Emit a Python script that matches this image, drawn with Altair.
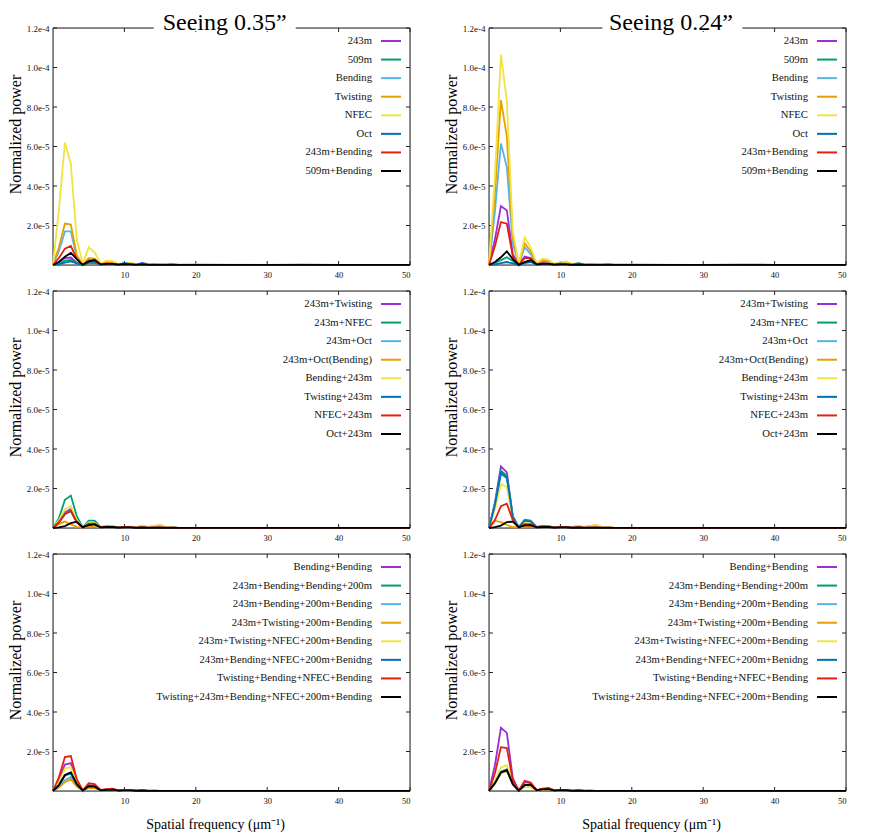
import altair as alt
import pandas as pd

# ---------------- data (power values in units of 1e-6) ----------------
FREQ = [0, 0.83, 1.67, 2.5, 3.33, 4.17, 5.0, 5.83, 6.67, 7.5, 8.33, 9.17, 10.0, 10.83,
        11.67, 12.5, 13.33, 14.17, 15.0, 15.83, 16.67, 17.5, 20, 25, 30, 35, 40, 45, 50]

SERIES_TOP = ["243m", "509m", "Bending", "Twisting", "NFEC", "Oct", "243m+Bending", "509m+Bending"]
SERIES_MID = ["243m+Twisting", "243m+NFEC", "243m+Oct", "243m+Oct(Bending)", "Bending+243m",
              "Twisting+243m", "NFEC+243m", "Oct+243m"]
SERIES_BOT = ["Bending+Bending", "243m+Bending+Bending+200m", "243m+Bending+200m+Bending",
              "243m+Twisting+200m+Bending", "243m+Twisting+NFEC+200m+Bending",
              "243m+Bending+NFEC+200m+Benidng", "Twisting+Bending+NFEC+Bending",
              "Twisting+243m+Bending+NFEC+200m+Bending"]
COLORS = ["#9a2fd8", "#009e73", "#56b4e9", "#e69f00", "#f0e442", "#0072b2", "#e51e10", "#000000"]

Y_TICKS = [2e-5, 4e-5, 6e-5, 8e-5, 1e-4, 1.2e-4]
X_TICKS = [10, 20, 30, 40, 50]
TITLES = ["Seeing 0.35\u201d", "Seeing 0.24\u201d"]
XLABEL = "Spatial frequency (\u03bcm\u207b\u00b9)"
YLABEL = "Normalized power"

# Seeing 0.35" , top row
A_243M = [0, 1.5, 3.5, 3.8, 1.2, 0.1, 1.2, 1.0, 0.2, 0.5, 0.4, 0.1, 0.3, 0.3, 0.1, 0.2, 0.1, 0.1, 0.1, 0.1, 0.1, 0.1, 0.1, 0.1, 0.1, 0.1, 0.1, 0.1, 0.1]
A_509M = [0, 0.5, 2.2, 2.6, 1.0, 0.1, 1.0, 1.5, 0.2, 0.4, 0.3, 0.1, 0.2, 0.2, 0.1, 0.2, 0.1, 0.1, 0.1, 0.1, 0.1, 0.1, 0.1, 0.1, 0.1, 0.1, 0.1, 0.1, 0.1]
A_BEND = [0, 7.0, 17.0, 17.0, 4.0, 0.3, 3.0, 2.8, 0.4, 1.2, 1.0, 0.3, 0.5, 0.7, 0.3, 0.4, 0.2, 0.3, 0.2, 0.2, 0.3, 0.1, 0.2, 0.1, 0.1, 0.1, 0.1, 0.1, 0.1]
A_TWIST = [0, 9.0, 21.0, 20.5, 5.0, 0.3, 3.5, 3.2, 0.5, 1.5, 1.3, 0.3, 0.6, 0.8, 0.3, 0.5, 0.2, 0.3, 0.2, 0.2, 0.4, 0.2, 0.2, 0.1, 0.1, 0.1, 0.1, 0.1, 0.1]
A_NFEC = [0, 28.0, 62.0, 51.0, 13.0, 0.5, 9.0, 6.4, 0.8, 2.2, 2.0, 0.5, 0.8, 1.2, 0.5, 0.6, 0.3, 0.4, 0.3, 0.3, 0.5, 0.2, 0.2, 0.2, 0.1, 0.1, 0.1, 0.1, 0.1]
A_OCT = [0, 0.3, 1.2, 1.8, 0.8, 0.1, 1.5, 2.0, 0.3, 0.6, 0.5, 0.2, 1.0, 0.4, 0.2, 1.0, 0.3, 0.2, 0.2, 0.2, 0.3, 0.1, 0.1, 0.1, 0.1, 0.2, 0.1, 0.1, 0.1]
A_243B = [0, 3.5, 8.3, 9.7, 3.0, 0.2, 2.2, 2.0, 0.3, 0.8, 0.7, 0.2, 0.4, 0.4, 0.2, 0.3, 0.1, 0.2, 0.1, 0.1, 0.2, 0.1, 0.1, 0.1, 0.1, 0.1, 0.1, 0.1, 0.1]
A_509B = [0, 1.5, 4.2, 6.1, 3.0, 0.1, 1.8, 2.5, 0.3, 0.6, 0.6, 0.2, 0.4, 0.3, 0.1, 0.3, 0.1, 0.1, 0.1, 0.1, 0.1, 0.1, 0.1, 0.1, 0.1, 0.1, 0.1, 0.1, 0.1]

# Seeing 0.24" , top row
B_243M = [0, 13.0, 29.8, 27.6, 5.5, 0.2, 4.3, 3.5, 0.4, 1.0, 0.8, 0.2, 0.5, 0.5, 0.2, 0.3, 0.1, 0.2, 0.1, 0.1, 0.2, 0.1, 0.1, 0.1, 0.1, 0.1, 0.1, 0.1, 0.1]
B_509M = [0, 1.0, 2.5, 3.9, 2.0, 0.1, 1.5, 2.0, 0.2, 0.5, 0.4, 0.1, 0.3, 0.2, 0.1, 0.2, 0.1, 0.1, 0.1, 0.1, 0.1, 0.1, 0.1, 0.1, 0.1, 0.1, 0.1, 0.1, 0.1]
B_BEND = [0, 27.0, 61.5, 49.5, 11.0, 0.3, 9.0, 5.5, 0.7, 2.0, 1.6, 0.3, 1.0, 1.1, 0.3, 0.5, 0.2, 0.3, 0.2, 0.2, 0.4, 0.2, 0.2, 0.1, 0.1, 0.1, 0.1, 0.1, 0.1]
B_TWIST = [0, 36.0, 83.5, 65.0, 14.0, 0.4, 11.0, 7.0, 0.8, 2.5, 2.0, 0.4, 1.2, 1.4, 0.4, 0.6, 0.3, 0.4, 0.3, 0.2, 0.5, 0.2, 0.2, 0.1, 0.1, 0.1, 0.1, 0.1, 0.1]
B_NFEC = [0, 45.0, 106.5, 83.0, 17.0, 0.5, 14.0, 9.0, 1.0, 3.2, 2.6, 0.5, 1.5, 1.8, 0.5, 0.8, 0.4, 0.5, 0.4, 0.3, 0.6, 0.2, 0.2, 0.2, 0.1, 0.1, 0.1, 0.1, 0.1]
B_OCT = [0, 0.3, 1.0, 1.5, 0.8, 0.1, 1.0, 1.5, 0.2, 0.5, 0.5, 0.2, 0.8, 0.3, 0.2, 0.9, 0.3, 0.2, 0.2, 0.2, 0.3, 0.1, 0.1, 0.1, 0.1, 0.2, 0.1, 0.1, 0.1]
B_243B = [0, 9.5, 21.7, 20.9, 4.5, 0.2, 3.5, 3.5, 0.4, 0.9, 0.7, 0.2, 0.4, 0.4, 0.2, 0.3, 0.1, 0.2, 0.1, 0.1, 0.2, 0.1, 0.1, 0.1, 0.1, 0.1, 0.1, 0.1, 0.1]
B_509B = [0, 1.5, 3.9, 6.9, 3.0, 0.1, 1.5, 2.5, 0.3, 0.6, 0.6, 0.2, 0.3, 0.3, 0.1, 0.2, 0.1, 0.1, 0.1, 0.1, 0.1, 0.1, 0.1, 0.1, 0.1, 0.1, 0.1, 0.1, 0.1]

# Seeing 0.35" , middle row
C_243T = [0, 3.5, 8.0, 9.6, 3.0, 0.2, 2.5, 2.5, 0.3, 0.8, 0.7, 0.2, 0.4, 0.4, 0.3, 0.6, 0.3, 0.4, 0.5, 0.2, 0.3, 0.1, 0.1, 0.1, 0.1, 0.1, 0.1, 0.1, 0.1]
C_243N = [0, 5.0, 14.3, 16.4, 6.0, 0.3, 3.7, 3.7, 0.5, 1.0, 0.8, 0.3, 0.5, 0.5, 0.3, 0.6, 0.3, 0.4, 0.5, 0.2, 0.3, 0.1, 0.1, 0.1, 0.1, 0.1, 0.1, 0.1, 0.1]
C_243O = [0, 3.0, 7.5, 9.0, 3.0, 0.2, 2.3, 2.3, 0.3, 0.7, 0.6, 0.2, 0.4, 0.4, 0.3, 0.5, 0.2, 0.3, 0.4, 0.2, 0.2, 0.1, 0.1, 0.1, 0.1, 0.1, 0.1, 0.1, 0.1]
C_243OB = [0, 2.0, 3.3, 1.8, 0.6, 0.2, 1.0, 0.8, 0.3, 1.0, 0.9, 0.3, 0.5, 0.6, 0.5, 1.2, 0.5, 0.9, 1.6, 0.4, 0.3, 0.2, 0.1, 0.1, 0.1, 0.1, 0.1, 0.1, 0.1]
C_B243 = [0, 4.0, 9.5, 11.0, 4.0, 0.3, 2.8, 2.6, 0.4, 1.2, 1.0, 0.3, 0.6, 0.7, 0.5, 1.3, 0.5, 1.0, 1.8, 0.5, 0.3, 0.2, 0.1, 0.1, 0.1, 0.1, 0.1, 0.1, 0.1]
C_T243 = [0, 3.0, 7.2, 8.5, 3.0, 0.2, 2.2, 2.2, 0.3, 0.7, 0.6, 0.2, 0.5, 0.4, 0.2, 0.5, 0.2, 0.3, 0.3, 0.2, 0.2, 0.1, 0.1, 0.1, 0.1, 0.1, 0.1, 0.1, 0.1]
C_N243 = [0, 2.8, 7.0, 8.8, 3.0, 0.2, 2.0, 2.0, 0.3, 0.7, 0.6, 0.2, 0.4, 0.4, 0.2, 0.4, 0.2, 0.3, 0.3, 0.2, 0.2, 0.1, 0.1, 0.1, 0.1, 0.1, 0.1, 0.1, 0.1]
C_O243 = [0, 0.3, 1.0, 2.5, 3.2, 0.4, 1.5, 1.8, 0.3, 0.5, 0.5, 0.2, 0.3, 0.3, 0.1, 0.2, 0.1, 0.1, 0.1, 0.1, 0.1, 0.1, 0.1, 0.1, 0.1, 0.1, 0.1, 0.1, 0.1]

# Seeing 0.24" , middle row
D_243T = [0, 13.0, 31.2, 28.2, 6.0, 0.3, 3.8, 3.3, 0.4, 1.0, 0.8, 0.2, 0.5, 0.5, 0.3, 0.6, 0.3, 0.3, 0.4, 0.2, 0.2, 0.1, 0.1, 0.1, 0.1, 0.1, 0.1, 0.1, 0.1]
D_243N = [0, 12.0, 29.0, 26.5, 6.0, 0.3, 4.2, 3.8, 0.5, 1.0, 0.8, 0.3, 0.5, 0.5, 0.3, 0.6, 0.3, 0.3, 0.4, 0.2, 0.2, 0.1, 0.1, 0.1, 0.1, 0.1, 0.1, 0.1, 0.1]
D_243O = [0, 11.5, 27.3, 25.0, 5.5, 0.3, 3.8, 3.4, 0.4, 0.9, 0.8, 0.2, 0.5, 0.5, 0.3, 0.5, 0.2, 0.3, 0.3, 0.2, 0.2, 0.1, 0.1, 0.1, 0.1, 0.1, 0.1, 0.1, 0.1]
D_243OB = [0, 3.7, 3.0, 1.5, 0.5, 0.2, 0.8, 0.8, 0.3, 1.0, 0.9, 0.3, 0.5, 0.6, 0.5, 1.2, 0.5, 0.9, 1.5, 0.4, 0.3, 0.2, 0.1, 0.1, 0.1, 0.1, 0.1, 0.1, 0.1]
D_B243 = [0, 9.5, 22.3, 20.6, 5.0, 0.3, 3.0, 2.8, 0.4, 1.2, 1.0, 0.3, 0.6, 0.7, 0.5, 1.2, 0.5, 1.0, 1.6, 0.5, 0.3, 0.2, 0.1, 0.1, 0.1, 0.1, 0.1, 0.1, 0.1]
D_T243 = [0, 11.5, 27.8, 25.7, 5.5, 0.3, 3.8, 3.4, 0.4, 0.9, 0.8, 0.2, 0.5, 0.5, 0.3, 0.5, 0.2, 0.3, 0.3, 0.2, 0.2, 0.1, 0.1, 0.1, 0.1, 0.1, 0.1, 0.1, 0.1]
D_N243 = [0, 4.0, 11.0, 12.3, 4.0, 0.2, 2.0, 2.0, 0.3, 0.7, 0.6, 0.2, 0.4, 0.4, 0.2, 0.4, 0.2, 0.3, 0.3, 0.2, 0.2, 0.1, 0.1, 0.1, 0.1, 0.1, 0.1, 0.1, 0.1]
D_O243 = [0, 0.5, 1.2, 3.0, 3.2, 0.4, 1.3, 1.5, 0.3, 0.5, 0.5, 0.2, 0.3, 0.3, 0.1, 0.2, 0.1, 0.1, 0.1, 0.1, 0.1, 0.1, 0.1, 0.1, 0.1, 0.1, 0.1, 0.1, 0.1]

# Seeing 0.35" , bottom row
E_BB = [0, 5.5, 13.4, 14.1, 5.0, 0.3, 3.0, 2.8, 0.4, 0.8, 0.9, 0.2, 0.4, 0.3, 0.2, 0.3, 0.1, 0.2, 0.1, 0.1, 0.1, 0.1, 0.1, 0.1, 0.1, 0.1, 0.1, 0.1, 0.1]
E_2BB2 = [0, 3.2, 8.0, 9.2, 3.4, 0.2, 2.4, 2.2, 0.3, 0.6, 0.7, 0.2, 0.3, 0.3, 0.1, 0.2, 0.1, 0.1, 0.1, 0.1, 0.1, 0.1, 0.1, 0.1, 0.1, 0.1, 0.1, 0.1, 0.1]
E_2B2B = [0, 2.3, 5.5, 7.1, 2.5, 0.2, 1.8, 1.7, 0.3, 0.5, 0.5, 0.1, 0.2, 0.2, 0.1, 0.2, 0.1, 0.1, 0.1, 0.1, 0.1, 0.1, 0.1, 0.1, 0.1, 0.1, 0.1, 0.1, 0.1]
E_2T2B = [0, 1.8, 4.5, 5.9, 2.2, 0.2, 1.5, 1.5, 0.2, 0.5, 0.5, 0.1, 0.2, 0.2, 0.1, 0.2, 0.1, 0.1, 0.1, 0.1, 0.1, 0.1, 0.1, 0.1, 0.1, 0.1, 0.1, 0.1, 0.1]
E_2TN2B = [0, 4.5, 11.4, 12.0, 4.0, 0.3, 2.5, 2.4, 0.4, 0.7, 0.8, 0.2, 0.3, 0.3, 0.1, 0.2, 0.1, 0.1, 0.1, 0.1, 0.1, 0.1, 0.1, 0.1, 0.1, 0.1, 0.1, 0.1, 0.1]
E_2BN2B = [0, 3.0, 7.8, 9.0, 3.3, 0.2, 2.4, 2.2, 0.3, 0.6, 0.7, 0.2, 0.3, 0.3, 0.1, 0.2, 0.1, 0.1, 0.1, 0.1, 0.1, 0.1, 0.1, 0.1, 0.1, 0.1, 0.1, 0.1, 0.1]
E_TBNB = [0, 7.0, 17.2, 17.7, 6.0, 0.3, 4.0, 3.5, 0.5, 1.0, 1.2, 0.3, 0.5, 0.4, 0.3, 0.4, 0.2, 0.2, 0.1, 0.1, 0.1, 0.1, 0.1, 0.1, 0.1, 0.1, 0.1, 0.1, 0.1]
E_T2BN2B = [0, 3.0, 8.1, 9.4, 3.5, 0.2, 2.5, 2.3, 0.3, 0.6, 0.7, 0.2, 0.3, 0.3, 0.1, 0.2, 0.1, 0.1, 0.1, 0.1, 0.1, 0.1, 0.1, 0.1, 0.1, 0.1, 0.1, 0.1, 0.1]

# Seeing 0.24" , bottom row
F_BB = [0, 13.0, 32.0, 29.4, 6.5, 0.3, 4.5, 4.0, 0.5, 1.0, 1.2, 0.3, 0.5, 0.4, 0.2, 0.3, 0.1, 0.2, 0.1, 0.1, 0.1, 0.1, 0.1, 0.1, 0.1, 0.1, 0.1, 0.1, 0.1]
F_2BB2 = [0, 4.0, 9.5, 10.7, 3.5, 0.2, 3.0, 3.1, 0.4, 0.8, 0.9, 0.2, 0.4, 0.3, 0.1, 0.2, 0.1, 0.1, 0.1, 0.1, 0.1, 0.1, 0.1, 0.1, 0.1, 0.1, 0.1, 0.1, 0.1]
F_2B2B = [0, 4.0, 9.8, 11.0, 3.5, 0.2, 3.0, 3.1, 0.4, 0.8, 0.9, 0.2, 0.4, 0.3, 0.1, 0.2, 0.1, 0.1, 0.1, 0.1, 0.1, 0.1, 0.1, 0.1, 0.1, 0.1, 0.1, 0.1, 0.1]
F_2T2B = [0, 3.6, 9.0, 10.2, 3.3, 0.2, 2.2, 2.0, 0.3, 0.6, 0.7, 0.2, 0.3, 0.3, 0.1, 0.2, 0.1, 0.1, 0.1, 0.1, 0.1, 0.1, 0.1, 0.1, 0.1, 0.1, 0.1, 0.1, 0.1]
F_2TN2B = [0, 5.0, 11.9, 13.1, 4.0, 0.3, 2.2, 2.0, 0.3, 0.6, 0.7, 0.2, 0.3, 0.3, 0.1, 0.2, 0.1, 0.1, 0.1, 0.1, 0.1, 0.1, 0.1, 0.1, 0.1, 0.1, 0.1, 0.1, 0.1]
F_2BN2B = [0, 4.0, 9.6, 10.8, 3.5, 0.2, 3.0, 3.1, 0.4, 0.8, 0.9, 0.2, 0.4, 0.3, 0.1, 0.2, 0.1, 0.1, 0.1, 0.1, 0.1, 0.1, 0.1, 0.1, 0.1, 0.1, 0.1, 0.1, 0.1]
F_TBNB = [0, 9.0, 22.2, 21.7, 5.5, 0.3, 5.2, 4.3, 0.5, 1.2, 1.5, 0.3, 0.6, 0.5, 0.2, 0.3, 0.2, 0.2, 0.1, 0.1, 0.1, 0.1, 0.1, 0.1, 0.1, 0.1, 0.1, 0.1, 0.1]
F_T2BN2B = [0, 4.0, 9.4, 10.6, 3.5, 0.2, 3.0, 3.2, 0.4, 0.8, 0.9, 0.2, 0.4, 0.3, 0.1, 0.2, 0.1, 0.1, 0.1, 0.1, 0.1, 0.1, 0.1, 0.1, 0.1, 0.1, 0.1, 0.1, 0.1]

# ---------------- layout / style ----------------
W, H = 357, 237
FONT = "Liberation Serif"
FRAME = "#222222"


def panel(names, rows, title=None, title_x=0, gap=(0, 0), xlabel=False):
    recs = []
    for name, vals in zip(names, rows):
        for f, v in zip(FREQ, vals):
            recs.append({"freq": f, "power": v * 1e-6, "series": name})
    df = pd.DataFrame(recs)

    xscale = alt.Scale(domain=[0, 50], nice=False, zero=False)
    yscale = alt.Scale(domain=[0, 1.2e-4], nice=False)
    cscale = alt.Scale(domain=names, range=COLORS)

    xaxis_kw = dict(values=X_TICKS, ticks=False, domain=False, grid=False, format="d",
                    labelPadding=5, labelFontSize=8.5, labelFont=FONT, labelColor="#111")
    if xlabel:
        xaxis_kw.update(titleFontSize=14, titleFont=FONT, titleFontWeight="normal",
                        titleX=162, titleY=33, titleBaseline="middle", titleColor="#000")
    xenc = alt.X("freq:Q", scale=xscale, axis=alt.Axis(**xaxis_kw),
                 title=(XLABEL if xlabel else None))
    yaxis = alt.Axis(values=Y_TICKS, ticks=False, domain=False, grid=False, format=".1e",
                     labelPadding=4, labelFontSize=9, labelFont=FONT, labelColor="#111",
                     titleFontSize=16, titleFont=FONT, titleFontWeight="normal",
                     titleColor="#000", titleX=-38, titleY=106, titleAngle=270,
                     titleBaseline="middle", titleAlign="center")

    one = pd.DataFrame({"a": [0]})
    frame = alt.Chart(one).mark_rect(fill="white", fillOpacity=0, stroke=FRAME,
                                     strokeWidth=1).encode(
        x=alt.value(0), x2=alt.value(W), y=alt.value(0), y2=alt.value(H))

    yt = pd.DataFrame({"v": Y_TICKS})
    xt = pd.DataFrame({"v": X_TICKS})
    tick_l = alt.Chart(yt).mark_rule(color=FRAME).encode(
        y=alt.Y("v:Q", scale=yscale, axis=None), x=alt.value(0), x2=alt.value(4))
    tick_r = alt.Chart(yt).mark_rule(color=FRAME).encode(
        y=alt.Y("v:Q", scale=yscale, axis=None), x=alt.value(W - 4), x2=alt.value(W))
    tick_b = alt.Chart(xt).mark_rule(color=FRAME).encode(
        x=alt.X("v:Q", scale=xscale, axis=None), y=alt.value(H - 4), y2=alt.value(H))
    tick_t = alt.Chart(xt).mark_rule(color=FRAME).encode(
        x=alt.X("v:Q", scale=xscale, axis=None), y=alt.value(0), y2=alt.value(4))

    lines = alt.Chart(df).mark_line(strokeWidth=1.8).encode(
        x=xenc,
        y=alt.Y("power:Q", scale=yscale, axis=yaxis, title=YLABEL),
        color=alt.Color("series:N", scale=cscale, legend=None),
    )

    leg = pd.DataFrame({"series": names, "rank": list(range(len(names)))})
    lscale = alt.Scale(domain=[0, 7], range=[13, 143])
    leg_line = alt.Chart(leg).mark_rule(strokeWidth=2).encode(
        x=alt.value(328), x2=alt.value(348),
        y=alt.Y("rank:Q", scale=lscale, axis=None),
        color=alt.Color("series:N", scale=cscale, legend=None))
    leg_text = alt.Chart(leg).mark_text(align="right", baseline="middle", font=FONT,
                                        fontSize=10.7, color="#111").encode(
        x=alt.value(319), y=alt.Y("rank:Q", scale=lscale, axis=None), text="series:N")

    layers = [frame, tick_l, tick_r, tick_b, tick_t, lines, leg_line, leg_text]
    if title:
        tdf = pd.DataFrame({"t": [title]})
        trect = alt.Chart(tdf).mark_rect(color="white").encode(
            x=alt.value(gap[0]), x2=alt.value(gap[1]), y=alt.value(-3), y2=alt.value(3))
        ttext = alt.Chart(tdf).mark_text(font=FONT, fontSize=24, align="center",
                                         baseline="alphabetic", color="#000").encode(
            x=alt.value(title_x), y=alt.value(1.6), text="t:N")
        layers += [trect, ttext]
    return alt.layer(*layers).resolve_scale(x="independent", y="independent").properties(
        width=W, height=H)


pA = panel(SERIES_TOP, [A_243M, A_509M, A_BEND, A_TWIST, A_NFEC, A_OCT, A_243B, A_509B],
           title=TITLES[0], title_x=171.7, gap=(100.7, 242.7))
pB = panel(SERIES_TOP, [B_243M, B_509M, B_BEND, B_TWIST, B_NFEC, B_OCT, B_243B, B_509B],
           title=TITLES[1], title_x=182, gap=(113.4, 253.4))
pC = panel(SERIES_MID, [C_243T, C_243N, C_243O, C_243OB, C_B243, C_T243, C_N243, C_O243])
pD = panel(SERIES_MID, [D_243T, D_243N, D_243O, D_243OB, D_B243, D_T243, D_N243, D_O243])
pE = panel(SERIES_BOT, [E_BB, E_2BB2, E_2B2B, E_2T2B, E_2TN2B, E_2BN2B, E_TBNB, E_T2BN2B],
           xlabel=True)
pF = panel(SERIES_BOT, [F_BB, F_2BB2, F_2B2B, F_2T2B, F_2TN2B, F_2BN2B, F_TBNB, F_T2BN2B],
           xlabel=True)

HSP = 27
chart = alt.vconcat(
    alt.hconcat(pA, pB, spacing=HSP),
    alt.hconcat(pC, pD, spacing=HSP),
    alt.hconcat(pE, pF, spacing=HSP),
    spacing=7,
).properties(
    padding={"left": -2, "top": 2, "right": 0, "bottom": 0}
).configure_view(stroke="transparent").configure(background="white")

chart.save("out.html", embed_options={"renderer": "svg", "actions": False})
